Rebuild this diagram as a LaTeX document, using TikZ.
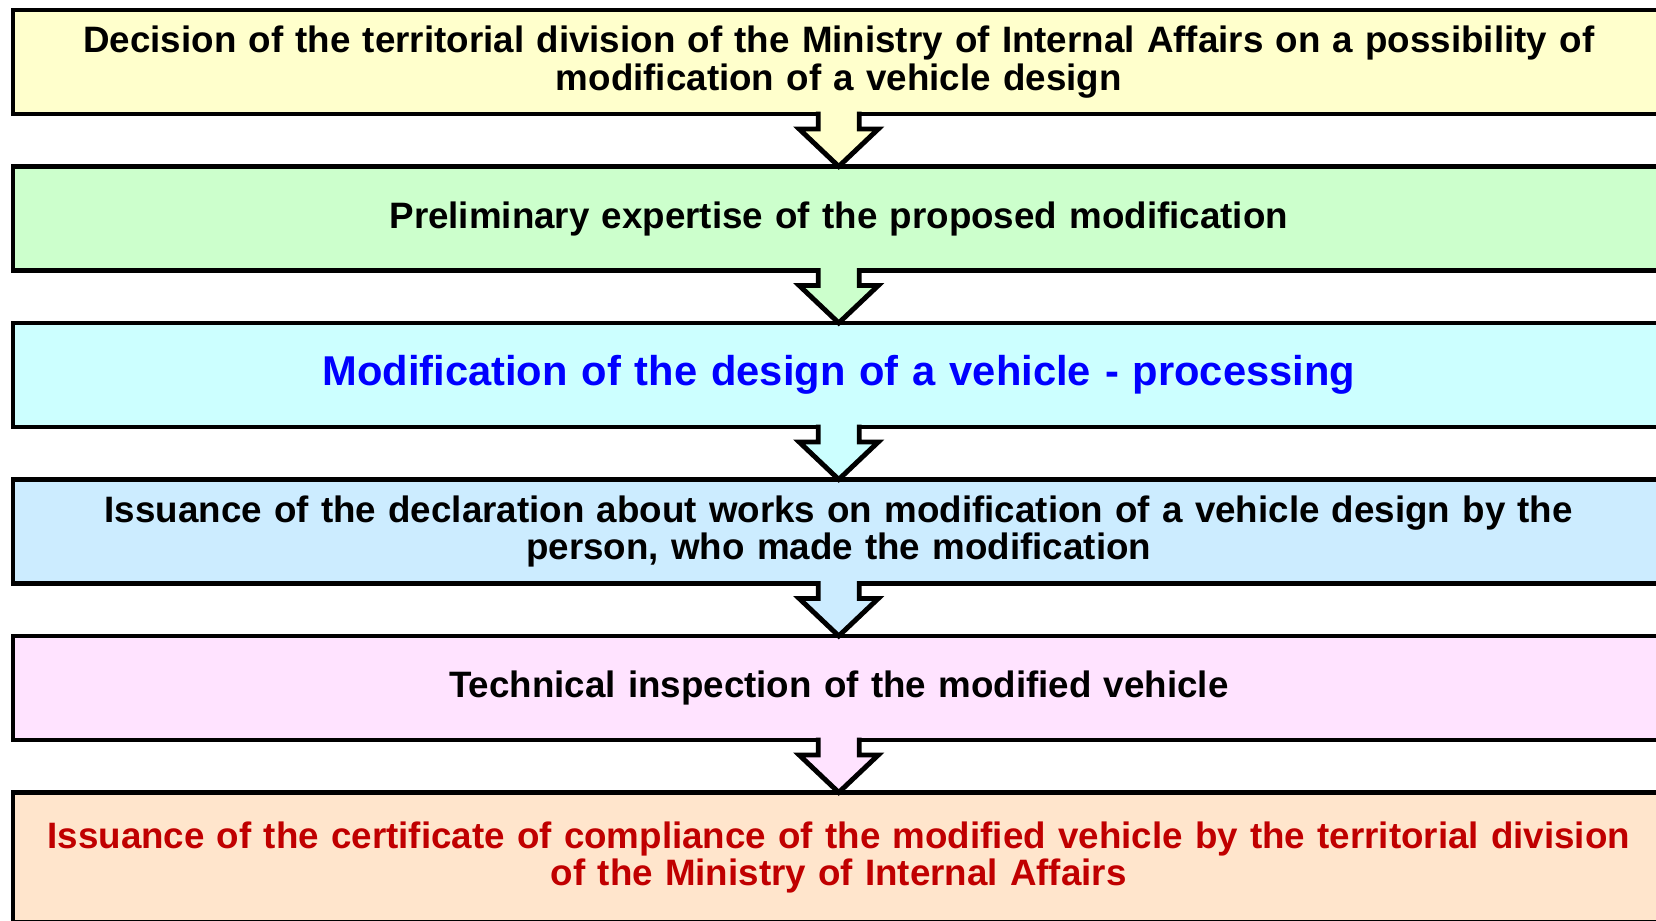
\documentclass[tikz,border=0pt]{standalone}
\usepackage{fontspec}
\setmainfont{Liberation Sans}
\usetikzlibrary{calc}
\definecolor{fillA}{HTML}{FFFFCC}
\definecolor{fillB}{HTML}{CCFFCC}
\definecolor{fillC}{HTML}{CCFFFF}
\definecolor{fillD}{HTML}{CCECFF}
\definecolor{fillE}{HTML}{FFE3FF}
\definecolor{fillF}{HTML}{FFE5CC}
\definecolor{txtblue}{HTML}{0000FF}
\definecolor{txtred}{HTML}{C00000}
\newcommand\blockarr[3]{%
  \fill[#3] ($(#1.south)+(-20.5,-3)$) -- ($(#1.south)+(-20.5,15)$) -- ($(#1.south)+(-39.5,15)$)
     -- (#2.north) -- ($(#1.south)+(39.5,15)$) -- ($(#1.south)+(20.5,15)$) -- ($(#1.south)+(20.5,-3)$) -- cycle;
  \draw[arrowline] ($(#1.south)+(-20.5,-2.5)$) -- ($(#1.south)+(-20.5,15)$) -- ($(#1.south)+(-39.5,15)$)
     -- (#2.north) -- ($(#1.south)+(39.5,15)$) -- ($(#1.south)+(20.5,15)$) -- ($(#1.south)+(20.5,-2.5)$);
}
\begin{document}
\begin{tikzpicture}[x=0.01cm,y=-0.01cm,
  box/.style={draw=black, line width=1.4pt, minimum width=16.505cm, minimum height=1.04cm,
    inner sep=0pt, outer sep=0pt, align=center, text width=16.4cm,
    font=\bfseries\fontsize{10.45}{10.8}\selectfont},
  arrowline/.style={line width=1.4pt, line join=miter}]
\useasboundingbox (0,0) rectangle (1656,921);
\clip (0,0) rectangle (1656,921);
\fill[white] (0,0) rectangle (1656,921);
\node[box, fill=fillA] (b1) at (838.75,62) {Decision of the territorial division of the Ministry of Internal Affairs on a possibility of\\modification of a vehicle design};
\node[box, fill=fillB] (b2) at (838.75,218.5) {Preliminary expertise of the proposed modification};
\node[box, fill=fillC, text=txtblue, font=\bfseries\fontsize{11.85}{13}\selectfont] (b3) at (838.75,375) {Modification of the design of a vehicle - processing};
\node[box, fill=fillD] (b4) at (838.75,531.5) {Issuance of the declaration about works on modification of a vehicle design by the\\person, who made the modification};
\node[box, fill=fillE] (b5) at (838.75,688) {Technical inspection of the modified vehicle};
\node[box, fill=fillF, text=txtred, minimum height=1.3cm] (b6) at (838.75,857.5) {Issuance of the certificate of compliance of the modified vehicle by the territorial division\\of the Ministry of Internal Affairs};
\blockarr{b1}{b2}{fillA}
\blockarr{b2}{b3}{fillB}
\blockarr{b3}{b4}{fillC}
\blockarr{b4}{b5}{fillD}
\blockarr{b5}{b6}{fillE}
\end{tikzpicture}
\end{document}
